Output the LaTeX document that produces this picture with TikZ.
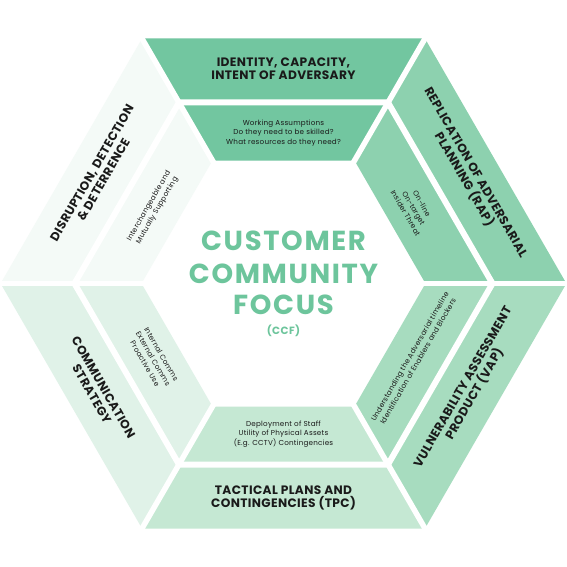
\documentclass[tikz,border=0pt]{standalone}
\usepackage{fontspec}
\setmainfont{Poppins}
\definecolor{cA}{HTML}{72C6A0}
\definecolor{cB}{HTML}{8DD1AF}
\definecolor{cC}{HTML}{A7DCBF}
\definecolor{cD}{HTML}{C5E8D3}
\definecolor{cE}{HTML}{E0F2E8}
\definecolor{cF}{HTML}{F4FAF7}
\definecolor{ctr}{HTML}{6DC59C}
\definecolor{txt}{HTML}{1A1A1A}
\begin{document}
\begin{tikzpicture}[x=1pt,y=-1pt,
  head/.style={font=\bfseries\fontsize{12.2}{13.4}\selectfont\addfontfeature{LetterSpace=3}, align=center, text=txt, inner sep=0pt},
  small/.style={font=\fontsize{7.2}{9.4}\selectfont\addfontfeature{LetterSpace=3}, align=center, text=txt, inner sep=0pt},
  big/.style={font=\bfseries\fontsize{27.5}{32}\selectfont\addfontfeature{LetterSpace=6}, text=ctr, inner sep=0pt},
  gap/.style={white, line width=6pt}]
\useasboundingbox (0,0) rectangle (567,567);
\fill[white] (0,0) rectangle (567,567);
\coordinate (C) at (283.5,283.5);
% outer hexagon, apothem 245
\coordinate (O0) at (566.4,283.5);
\coordinate (O1) at (424.95,38.5);
\coordinate (O2) at (142.05,38.5);
\coordinate (O3) at (0.6,283.5);
\coordinate (O4) at (142.05,528.5);
\coordinate (O5) at (424.95,528.5);
% inner hexagon, apothem 123
\coordinate (I0) at (425.5,283.5);
\coordinate (I1) at (354.5,160.5);
\coordinate (I2) at (212.5,160.5);
\coordinate (I3) at (141.5,283.5);
\coordinate (I4) at (212.5,406.5);
\coordinate (I5) at (354.5,406.5);
% gap ring, apothem 181
\coordinate (G0) at (492.5,283.5);
\coordinate (G1) at (388,102.5);
\coordinate (G2) at (179,102.5);
\coordinate (G3) at (74.5,283.5);
\coordinate (G4) at (179,464.5);
\coordinate (G5) at (388,464.5);
% radial extensions
\coordinate (E0) at (590,283.5);
\coordinate (E1) at (436,19.5);
\coordinate (E2) at (131,19.5);
\coordinate (E3) at (-23,283.5);
\coordinate (E4) at (131,547.5);
\coordinate (E5) at (436,547.5);
% sectors
\fill[cA] (O1) -- (O2) -- (I2) -- (I1) -- cycle;
\fill[cF] (O2) -- (O3) -- (I3) -- (I2) -- cycle;
\fill[cE] (O3) -- (O4) -- (I4) -- (I3) -- cycle;
\fill[cD] (O4) -- (O5) -- (I5) -- (I4) -- cycle;
\fill[cC] (O5) -- (O0) -- (I0) -- (I5) -- cycle;
\fill[cB] (O0) -- (O1) -- (I1) -- (I0) -- cycle;
% gaps
\draw[gap] (G0) -- (G1) -- (G2) -- (G3) -- (G4) -- (G5) -- cycle;
\foreach \k in {0,...,5} \draw[white, line width=5.5pt] (C) -- (E\k);
% outer texts
\node[head] (tIdent) at (283.5,69) {IDENTITY, CAPACITY,\\INTENT OF ADVERSARY};
\node[head, rotate=-60] (tRap) at (469.3,176.3) {REPLICATION OF ADVERSARIAL\\PLANNING (RAP)};
\node[head, rotate=60] (tVap) at (469.3,390.7) {VULNERABILITY ASSESSMENT\\PRODUCT (VAP)};
\node[head] (tTpc) at (283.5,498) {TACTICAL PLANS AND\\CONTINGENCIES (TPC)};
\node[head, rotate=-60] (tComm) at (97.7,390.7) {COMMUNICATION\\STRATEGY};
\node[head, rotate=60] (tDis) at (97.7,176.3) {DISRUPTION, DETECTION\\\& DETERRENCE};
% inner texts
\node[small] (sWork) at (283.5,133) {Working Assumptions\\Do they need to be skilled?\\What resources do they need?};
\node[small, rotate=-60] (sOn) at (413.8,208.3) {On-line\\On-target\\Insider Threat};
\node[small, rotate=60] (sUnd) at (413.8,358.8) {Understanding the Adversarial timeline\\Identification of Enablers and Blockers};
\node[small] (sDep) at (283.5,434) {Deployment of Staff\\Utility of Physical Assets\\(E.g. CCTV) Contingencies};
\node[small, rotate=-60] (sInt) at (153.2,358.8) {Internal Comms\\External Comms\\Proactive Use};
\node[small, rotate=60] (sInter) at (153.2,208.3) {Interchangeable and\\Mutually Supporting};
% centre
\node[big] (c1) at (283.5,241) {CUSTOMER};
\node[big] (c2) at (283.5,273.5) {COMMUNITY};
\node[big] (c3) at (283.5,305) {FOCUS};
\node[font=\bfseries\fontsize{10.5}{12}\selectfont\addfontfeature{LetterSpace=4}, text=ctr, inner sep=0pt] (c4) at (283.5,331) {(CCF)};
\end{tikzpicture}
\end{document}
